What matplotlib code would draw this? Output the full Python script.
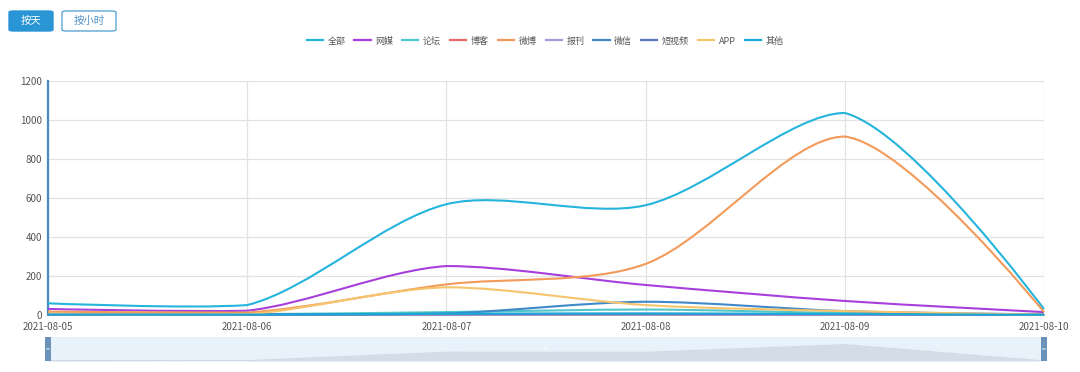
import matplotlib
matplotlib.use("Agg")
import matplotlib.pyplot as plt
import numpy as np
from matplotlib.path import Path
from matplotlib.patches import PathPatch, FancyBboxPatch, Rectangle
from matplotlib.lines import Line2D

plt.rcParams["font.family"] = ["Noto Sans CJK SC", "DejaVu Sans"]

dates = ["2021-08-05", "2021-08-06", "2021-08-07", "2021-08-08", "2021-08-09", "2021-08-10"]
names = ["全部", "网媒", "论坛", "博客", "微博", "报刊", "微信", "短视频", "APP", "其他"]
colors = ["#25b4dc", "#a63fdc", "#52c6c9", "#e7686b", "#f39a5a",
          "#a999d6", "#3f89c8", "#5a72c2", "#f6c46c", "#1aa9d6"]

quanbu = [60, 51, 568, 563, 1036, 30]
wangmei = [31, 22, 251, 154, 72, 15]
luntan = [5, 4, 15, 28, 10, 2]
boke = [2, 1, 3, 4, 2, 1]
weibo = [17, 12, 157, 262, 915, 15]
baokan = [1, 1, 2, 2, 1, 0]
weixin = [4, 3, 8, 68, 20, 3]
duanshipin = [2, 2, 5, 6, 4, 1]
app = [5, 4, 142, 51, 20, 2]
qita = [3, 2, 6, 8, 5, 1]

series = [quanbu, wangmei, luntan, boke, weibo, baokan, weixin, duanshipin, app, qita]
yticks = [0, 200, 400, 600, 800, 1000, 1200]

W, H = 1080, 372


def smooth_path(ax, xs, ys, smooth=0.3):
    # bezier smoothing like the old echarts line, done in pixel space,
    # control points kept inside the series' own value range
    pts = ax.transData.transform(np.column_stack([xs, ys]).astype(float))
    lo, hi = pts[:, 1].min(), pts[:, 1].max()
    n = len(pts)
    cps = []
    for i in range(n):
        p = pts[i]
        if i == 0 or i == n - 1:
            cps.append((p.copy(), p.copy()))
            continue
        prev, nxt = pts[i - 1], pts[i + 1]
        v = (nxt - prev) * smooth
        d0 = np.hypot(*(p - prev))
        d1 = np.hypot(*(p - nxt))
        s = d0 + d1
        c0 = p - v * d0 / s
        c1 = p + v * d1 / s
        c0[1] = np.clip(c0[1], lo, hi)
        c1[1] = np.clip(c1[1], lo, hi)
        cps.append((c0, c1))
    verts = [pts[0]]
    codes = [Path.MOVETO]
    for i in range(n - 1):
        verts += [cps[i][1], cps[i + 1][0], pts[i + 1]]
        codes += [Path.CURVE4] * 3
    verts = ax.transData.inverted().transform(np.array(verts))
    return Path(verts, codes)


fig = plt.figure(figsize=(W / 100, H / 100), dpi=100)
ax = fig.add_axes([48 / W, 1 - 315 / H, (1044 - 48) / W, (315 - 81) / H])

x = np.arange(len(dates))
ax.set_xlim(0, len(dates) - 1)
ax.set_ylim(0, 1200)
ax.set_xticks(x)
ax.set_xticklabels(dates)
ax.set_yticks(yticks)
ax.tick_params(axis="both", length=0, labelsize=7, colors="#555555")
ax.tick_params(axis="x", pad=5)
ax.tick_params(axis="y", pad=4)
ax.grid(True, color="#e2e2e2", linewidth=0.9)
ax.set_axisbelow(True)
for side in ["top", "right"]:
    ax.spines[side].set_visible(False)
ax.spines["left"].set_color("#4a88c0")
ax.spines["left"].set_linewidth(1.6)
ax.spines["bottom"].set_color("#6e8fae")
ax.spines["bottom"].set_linewidth(1.2)

for vals, c in zip(series, colors):
    path = smooth_path(ax, x, vals)
    ax.add_patch(PathPatch(path, facecolor="none", edgecolor=c, linewidth=1.5,
                           clip_on=False, zorder=3))

# legend
handles = [Line2D([], [], color=c, linewidth=1.6) for c in colors]
fig.legend(handles, names, loc="center", bbox_to_anchor=(545 / W, 1 - 41 / H), ncol=10,
           frameon=False, fontsize=6.5, handlelength=1.8, handletextpad=0.5,
           columnspacing=1.0, labelcolor="#555555")

# buttons
fig.patches.append(FancyBboxPatch((9 / W, 1 - 31 / H), 44 / W, 20 / H,
                                  boxstyle="round,pad=0,rounding_size=0.004",
                                  transform=fig.transFigure, facecolor="#2a95d5",
                                  edgecolor="#2a95d5", linewidth=1))
fig.text(31 / W, 1 - 21 / H, "按天", color="white", fontsize=7.5, ha="center", va="center")
fig.patches.append(FancyBboxPatch((62 / W, 1 - 31 / H), 54 / W, 20 / H,
                                  boxstyle="round,pad=0,rounding_size=0.004",
                                  transform=fig.transFigure, facecolor="white",
                                  edgecolor="#4d9bd0", linewidth=0.9))
fig.text(89 / W, 1 - 21 / H, "按小时", color="#4d8fc6", fontsize=7.5, ha="center", va="center")

# data zoom slider with the shadow of the first series
sl = fig.add_axes([48 / W, 1 - 361 / H, (1044 - 48) / W, 24 / H])
sl.set_xlim(0, len(dates) - 1)
lo, hi = min(quanbu), max(quanbu)
shadow = [(v - lo) / (hi - lo) * 0.68 for v in quanbu]
sl.set_ylim(0, 1)
sl.set_facecolor("#e8f2fb")
sl.fill_between(x, 0, shadow, color="#d3dde7", linewidth=0)
sl.plot(x, shadow, color="#cfd9e3", linewidth=0.8)
for s in sl.spines.values():
    s.set_visible(False)
sl.set_xticks([])
sl.set_yticks([])
for hx in [0, len(dates) - 1]:
    fx = sl.transData.transform((hx, 0))[0] / W
    fig.patches.append(Rectangle((fx - 3 / W, 1 - 361 / H), 6 / W, 24 / H,
                                 transform=fig.transFigure, facecolor="#6b93b9",
                                 edgecolor="none"))
    fig.text(fx, 1 - 349 / H, "=", color="white", fontsize=5, ha="center", va="center")
fig.text(545 / W, 1 - 348 / H, "=", color="white", fontsize=5, ha="center", va="center")

fig.savefig("out.png", dpi=100)
